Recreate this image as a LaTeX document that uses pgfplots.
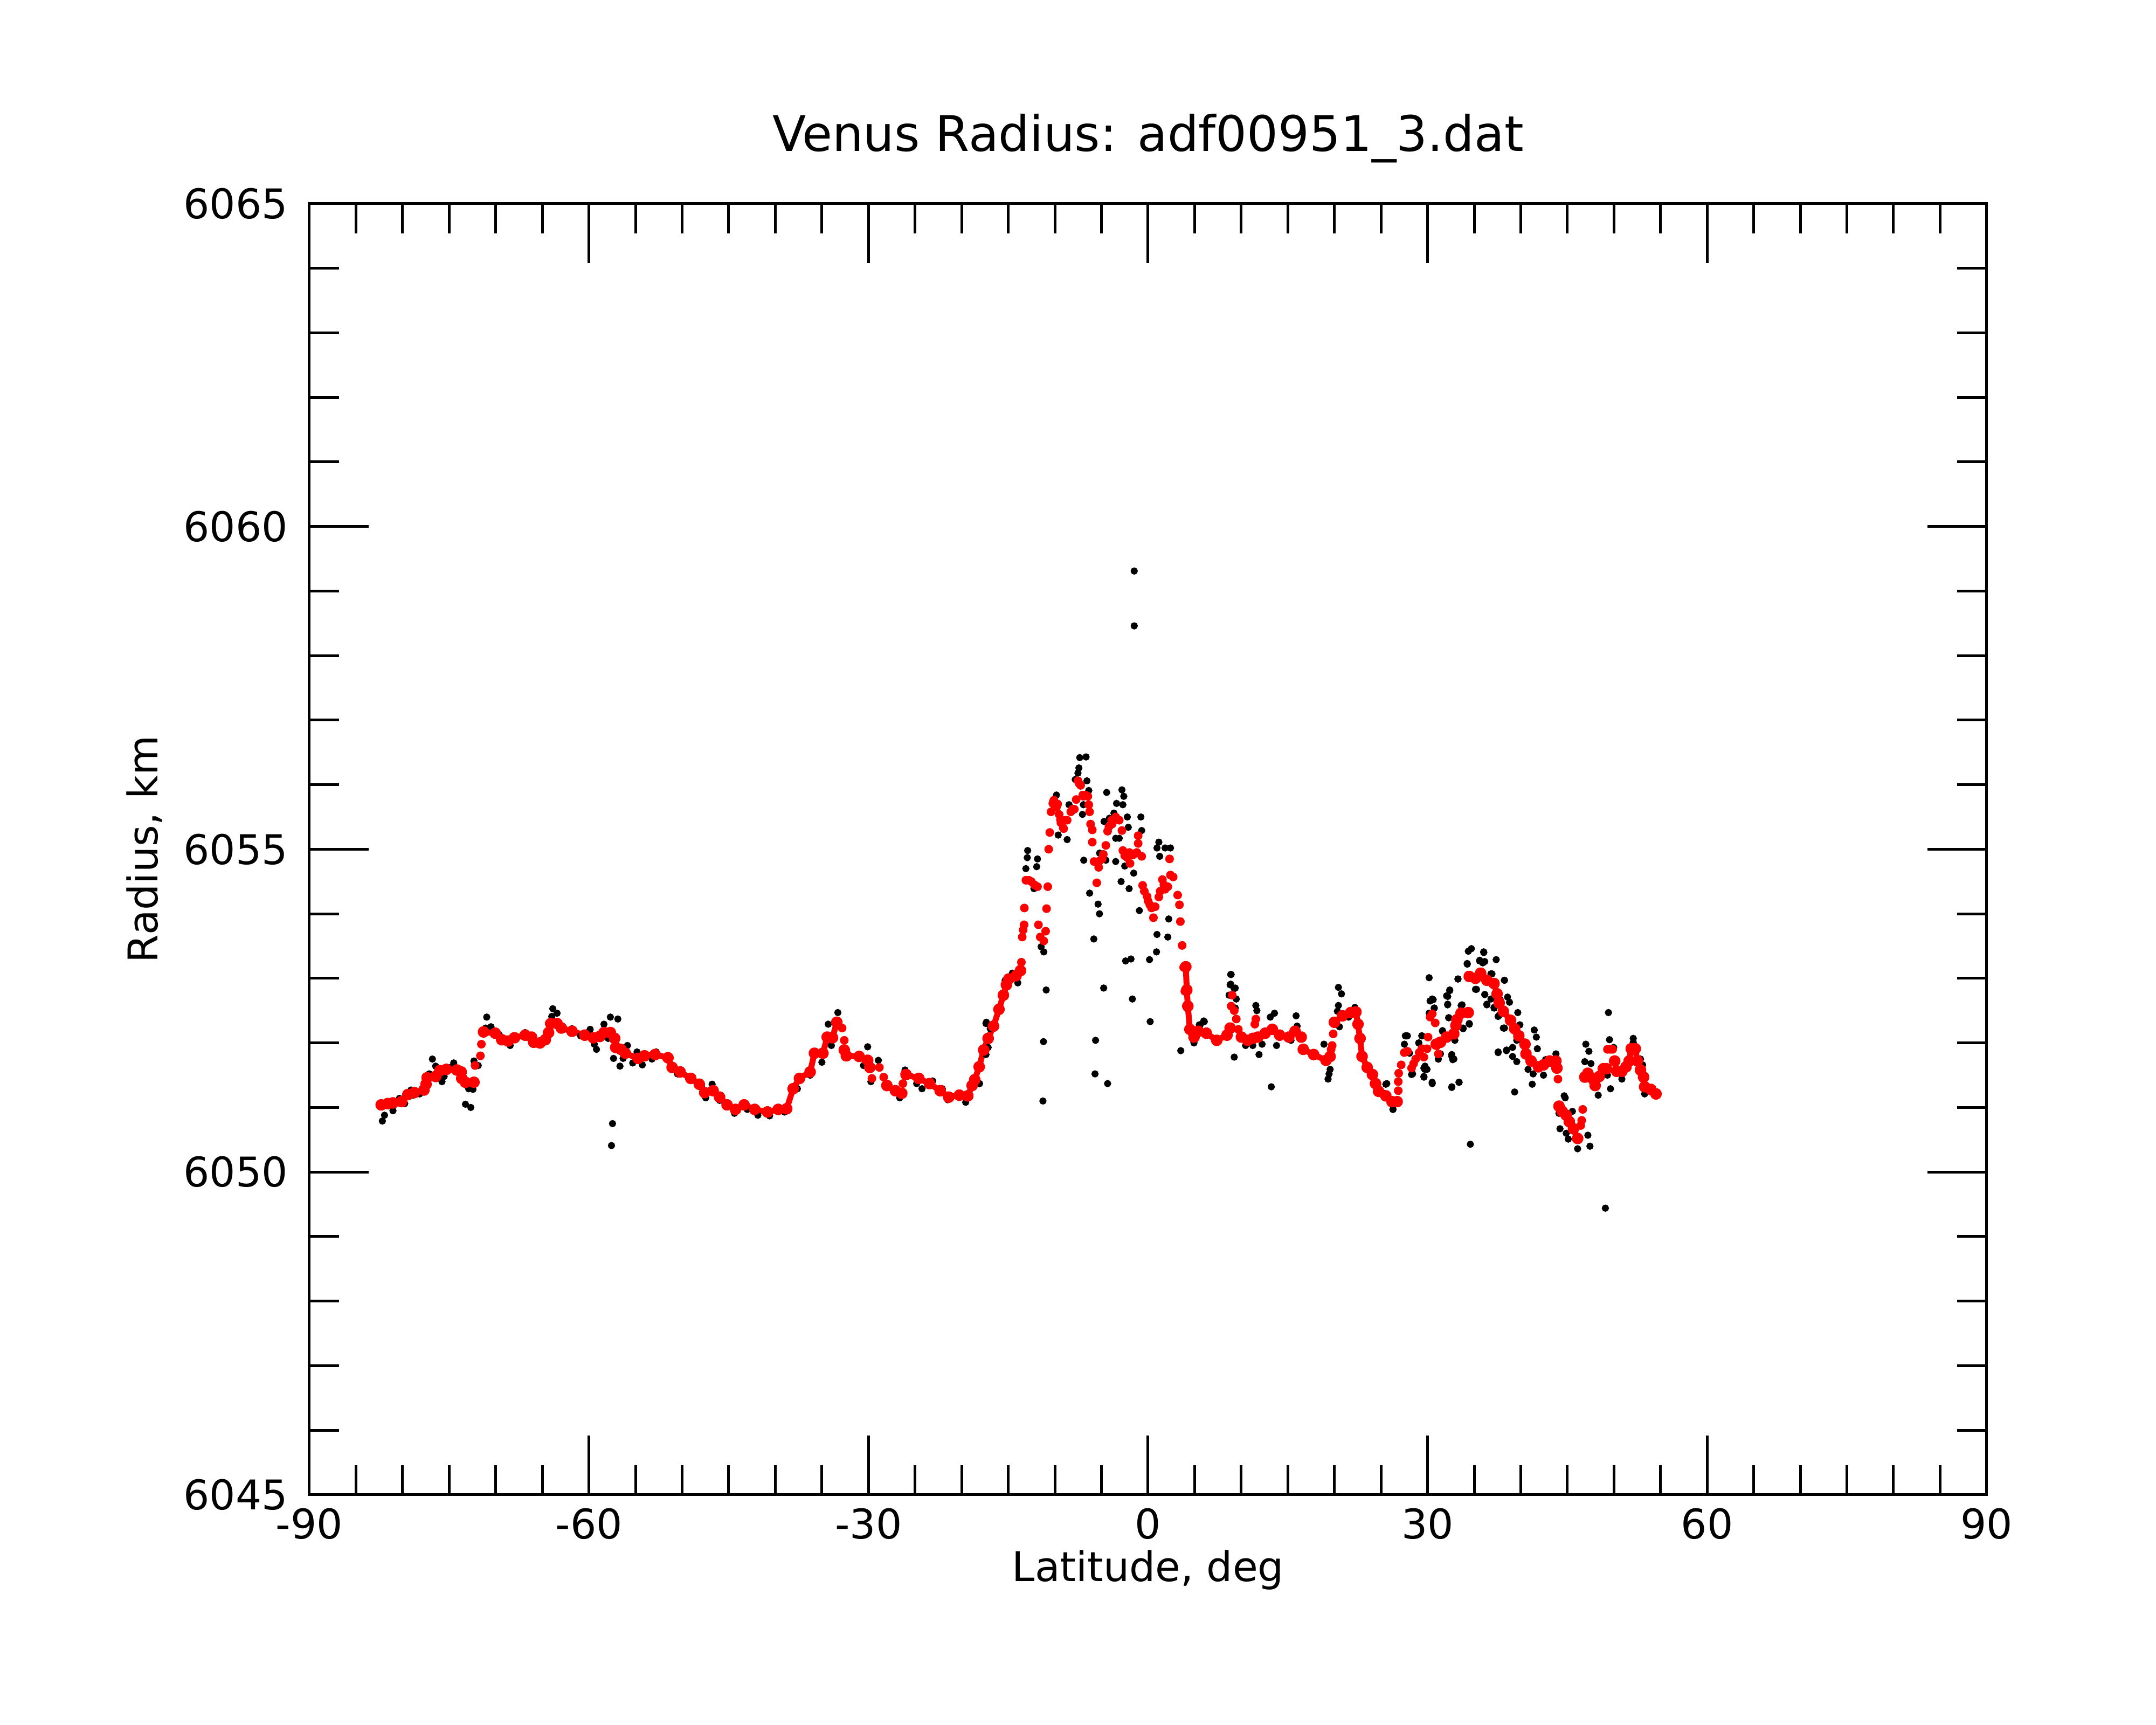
\documentclass[border=0pt]{standalone}
\usepackage{pgfplots}
\pgfplotsset{compat=1.18}
\usepackage{pgfplotstable}
\usepackage{fontspec}
\setmainfont{DejaVu Sans}

\pgfplotstableread{
x y
-82.17 6050.79
-81.94 6050.88
-81.03 6050.95
-80.34 6051.14
-79.77 6051.06
-79.09 6051.27
-78.86 6051.19
-78.17 6051.21
-76.8 6051.75
-76.45 6051.64
-77.14 6051.52
-75.77 6051.40
-75.54 6051.48
-74.85 6051.62
-74.51 6051.69
-72.91 6051.29
-72.45 6051.28
-73.25 6051.05
-72.68 6051.00
-72.34 6051.72
-71.88 6051.65
-70.97 6052.40
-70.51 6052.25
-71.08 6052.23
-69.6 6052.12
-68.45 6051.96
-67.99 6052.09
-66.85 6052.16
-65.36 6051.97
-63.88 6052.53
-63.42 6052.46
-63.99 6052.41
-62.73 6052.21
-61.82 6052.22
-60.9 6052.11
-59.87 6052.21
-59.42 6051.98
-59.19 6051.90
-58.39 6052.29
-57.7 6052.40
-56.9 6052.37
-57.93 6052.07
-57.36 6051.76
-56.67 6051.64
-57.47 6050.75
-57.58 6050.41
-55.87 6051.96
-56.33 6051.76
-55.3 6051.69
-54.84 6051.86
-54.27 6051.66
-53.93 6051.83
-53.24 6051.75
-52.78 6051.86
-51.52 6051.79
-50.5 6051.52
-50.63 6051.58
-47.93 6051.32
-47.47 6051.15
-46.78 6051.36
-45.98 6051.11
-44.38 6050.91
-43.01 6050.97
-41.87 6050.88
-40.61 6050.87
-39.01 6050.93
-37.63 6051.29
-36.26 6051.50
-35.0 6051.70
-34.32 6052.29
-33.98 6051.96
-33.29 6052.47
-30.09 6051.94
-30.54 6051.65
-28.94 6051.73
-29.74 6051.40
-26.65 6051.15
-26.08 6051.58
-24.83 6051.37
-24.26 6051.29
-23.11 6051.41
-22.08 6051.29
-21.51 6051.12
-19.57 6051.08
-18.08 6051.37
-17.39 6052.30
-16.93 6052.22
-17.16 6051.93
-17.39 6051.82
-7.33 6056.42
-6.65 6056.43
-7.42 6056.26
-7.52 6056.18
-7.81 6056.08
-6.56 6056.06
-6.36 6055.91
-6.94 6055.69
-7.04 6055.54
-8.48 6055.69
-8.68 6055.15
-9.64 6055.22
-9.83 6055.84
-10.22 6055.75
-4.44 6055.88
-2.8 6055.92
-2.6 6055.82
-2.7 6055.69
-3.38 6055.71
-4.15 6055.48
-4.72 6055.43
-2.22 6055.50
-2.12 6055.34
-0.77 6055.50
-0.68 6055.29
-3.66 6055.56
-3.47 6055.17
-3.09 6055.17
-4.53 6055.06
-5.2 6054.94
-4.53 6054.83
-3.47 6054.81
-2.5 6054.74
-1.54 6054.63
-6.9 6054.83
-6.27 6054.32
-5.36 6054.15
-5.21 6054.00
-5.82 6053.61
-2.89 6054.50
-2.03 6054.39
-0.93 6054.05
1.16 6055.11
0.96 6055.02
1.83 6055.02
2.41 6055.02
1.25 6054.89
2.22 6053.92
0.96 6053.68
2.12 6053.64
0.91 6053.41
0.16 6053.29
-1.83 6053.30
-2.41 6053.27
-1.68 6052.68
0.23 6052.33
3.51 6051.88
-4.76 6052.85
-5.63 6052.04
-5.69 6051.52
-4.34 6051.37
-10.93 6052.82
-11.22 6052.02
-11.28 6051.10
-12.92 6054.98
-12.96 6054.87
-11.86 6054.85
-13.11 6054.70
-11.95 6054.73
-12.24 6054.39
-11.47 6053.49
-11.19 6053.41
-14.56 6053.08
-13.98 6052.93
-15.33 6052.97
-17.35 6052.32
-16.87 6052.22
-17.16 6052.04
-18.12 6051.37
4.92 6052.02
5.98 6052.34
5.5 6052.28
8.87 6053.06
8.87 6052.91
9.25 6052.84
9.25 6051.78
8.68 6052.11
-1.48 6059.31
-1.48 6058.46
8.92 6053.06
8.81 6052.90
9.36 6052.85
8.70 6052.74
9.47 6052.68
9.36 6052.54
6.04 6052.33
5.6 6052.28
4.93 6052.00
11.57 6052.58
11.68 6052.50
10.47 6051.96
11.24 6051.96
11.91 6051.82
12.24 6051.98
13.12 6052.40
13.57 6052.46
13.79 6051.96
13.23 6051.32
15.89 6052.42
16.0 6052.26
15.34 6052.04
18.88 6051.98
19.54 6051.59
19.43 6051.52
19.32 6051.44
20.43 6052.86
20.76 6052.76
20.43 6052.58
20.32 6052.49
20.54 6052.25
21.53 6052.40
22.20 6052.55
25.52 6051.36
25.3 6051.22
26.29 6050.97
27.73 6052.11
27.51 6051.98
28.06 6051.84
28.28 6051.51
29.06 6052.00
29.39 6052.11
29.61 6051.47
30.5 6051.37
29.72 6051.64
29.94 6051.59
30.17 6053.01
30.5 6052.68
30.72 6052.54
30.17 6052.46
31.16 6051.82
31.16 6051.75
31.6 6052.18
32.16 6052.72
32.38 6052.82
32.16 6052.60
32.27 6052.39
32.6 6051.79
32.82 6051.75
32.6 6051.32
33.38 6051.39
33.6 6052.58
33.71 6052.44
33.26 6052.99
34.48 6052.29
33.82 6052.22
34.59 6050.43
34.7 6053.46
34.37 6053.42
36.03 6053.40
37.36 6053.29
34.26 6053.22
35.59 6053.28
35.92 6053.24
36.8 6053.07
38.25 6052.97
35.25 6052.83
36.14 6052.75
36.36 6052.60
36.8 6052.68
37.14 6052.54
37.69 6052.43
38.25 6052.23
37.58 6051.86
38.47 6051.89
38.58 6052.71
37.8 6052.67
36.02 6053.41
35.58 6053.27
36.13 6053.26
34.25 6053.23
33.26 6052.99
36.91 6053.07
38.24 6052.97
35.14 6052.83
36.13 6052.75
32.37 6052.81
32.04 6052.73
30.6 6052.67
30.27 6052.65
30.71 6052.54
32.15 6052.59
33.7 6052.59
36.36 6052.59
37.13 6052.55
38.79 6052.63
37.57 6052.41
32.26 6052.39
34.47 6052.30
33.81 6052.23
39.68 6052.47
39.9 6052.28
38.13 6052.23
41.45 6052.20
41.67 6052.09
39.57 6052.04
27.83 6052.11
29.38 6052.11
29.05 6052.00
31.6 6052.19
32.93 6052.04
31.38 6051.83
32.59 6051.82
32.7 6051.74
31.15 6051.75
29.6 6051.61
29.7 6051.59
28.39 6051.52
29.6 6051.48
30.49 6051.39
32.59 6051.31
33.37 6051.39
37.57 6051.85
38.46 6051.88
39.12 6051.93
39.12 6051.79
39.57 6051.71
41.78 6051.91
40.78 6051.59
41.33 6051.52
41.23 6051.36
39.34 6051.24
41.11 6051.75
42.66 6051.74
43.77 6051.83
42.44 6051.50
27.61 6052.11
25.62 6051.37
26.28 6050.97
44.66 6051.18
44.77 6051.15
45.54 6050.94
44.1 6050.91
44.21 6050.67
44.88 6050.60
45.1 6050.51
46.1 6050.36
47.2 6050.57
47.42 6050.40
46.98 6051.98
47.31 6051.87
46.87 6051.71
47.53 6051.68
48.42 6051.50
48.31 6051.19
49.3 6051.50
49.63 6051.29
49.41 6052.47
49.52 6052.05
49.97 6051.93
50.85 6051.44
52.07 6052.07
52.07 6052.01
52.85 6051.75
53.07 6051.66
53.29 6051.21
49.08 6049.44
}\blackpts

\pgfplotstableread{
x y
-82.29 6051.04
-81.6 6051.06
-81.03 6051.07
-80.11 6051.09
-79.43 6051.20
-78.74 6051.23
-77.71 6051.27
-77.48 6051.36
-77.37 6051.46
-76.45 6051.48
-76.0 6051.57
-75.3 6051.59
-74.17 6051.58
-73.71 6051.55
-73.65 6051.45
-73.25 6051.39
-72.34 6051.39
nan nan
-71.31 6052.17
-70.05 6052.15
-69.36 6052.05
-68.68 6052.03
-67.99 6052.08
-66.85 6052.12
-66.16 6052.09
-65.93 6052.01
-65.25 6052.00
-64.68 6052.05
-64.33 6052.16
-64.1 6052.30
-63.42 6052.30
-62.96 6052.23
-61.82 6052.18
-60.45 6052.12
-59.53 6052.08
-58.84 6052.10
-58.39 6052.16
-57.7 6052.16
-57.24 6052.07
-57.13 6051.93
-56.56 6051.90
-56.1 6051.84
-54.73 6051.76
-54.04 6051.80
-52.9 6051.82
-51.52 6051.77
-51.07 6051.62
-50.21 6051.55
-49.07 6051.45
-48.16 6051.36
-47.58 6051.23
-46.67 6051.26
-45.98 6051.16
-45.18 6051.04
-44.27 6050.97
-43.35 6051.04
-42.21 6050.97
-40.84 6050.93
-39.69 6050.97
-38.78 6050.98
-38.09 6051.29
-37.41 6051.45
-36.26 6051.55
-35.80 6051.84
-34.89 6051.84
-34.43 6052.09
-33.86 6052.08
-33.40 6052.32
nan nan
-32.60 6051.89
-32.37 6051.80
-31.0 6051.79
-30.09 6051.73
-29.86 6051.62
nan nan
-28.03 6051.34
-27.11 6051.26
-26.43 6051.22
nan nan
-25.97 6051.51
-24.60 6051.45
-23.45 6051.37
-22.31 6051.26
-21.39 6051.16
-20.25 6051.19
-19.34 6051.18
-18.88 6051.34
-18.6 6051.43
-18.12 6051.63
-17.64 6051.89
-17.16 6052.07
-16.58 6052.26
-16.0 6052.52
-15.52 6052.74
-15.2 6052.90
-14.94 6052.99
-14.17 6053.04
-13.69 6053.12
nan nan
4.05 6053.18
4.16 6052.82
4.27 6052.57
4.49 6052.21
4.93 6052.09
5.38 6052.18
6.26 6052.15
7.37 6052.04
8.47 6052.12
8.81 6052.23
nan nan
10.02 6052.09
10.69 6052.04
11.24 6052.07
nan nan
11.79 6052.09
12.57 6052.15
13.34 6052.21
14.12 6052.12
15.11 6052.09
15.78 6052.18
16.44 6052.09
nan nan
16.66 6051.90
17.77 6051.82
19.1 6051.73
19.54 6051.79
nan nan
20.0 6052.32
20.87 6052.42
21.75 6052.47
22.31 6052.48
22.53 6052.29
22.75 6052.07
22.97 6051.79
23.52 6051.62
24.08 6051.51
24.41 6051.37
24.74 6051.25
25.52 6051.18
26.18 6051.09
26.73 6051.09
nan nan
30.93 6051.98
31.38 6052.01
32.04 6052.09
32.81 6052.14
33.04 6052.27
33.15 6052.36
33.59 6052.46
34.36 6052.47
nan nan
34.47 6053.03
35.14 6053.00
35.69 6053.08
36.36 6052.97
37.13 6052.92
37.46 6052.76
37.68 6052.62
38.13 6052.49
38.9 6052.35
39.34 6052.22
39.79 6052.11
40.45 6051.98
40.56 6051.83
41.11 6051.72
41.9 6051.63
42.44 6051.66
43.11 6051.72
43.77 6051.72
43.88 6051.61
nan nan
44.1 6051.02
44.44 6050.94
44.88 6050.88
45.21 6050.78
45.65 6050.67
46.1 6050.52
nan nan
46.87 6051.47
47.2 6051.53
47.75 6051.44
47.98 6051.34
48.42 6051.48
48.86 6051.60
49.19 6051.60
nan nan
50.08 6051.72
50.3 6051.56
50.85 6051.56
51.3 6051.63
51.63 6051.72
51.85 6051.91
52.29 6051.91
52.51 6051.72
52.85 6051.58
53.18 6051.47
53.29 6051.32
53.95 6051.28
54.51 6051.21
}\redline

\pgfplotstableread{
x y
-72.22 6051.65
-71.65 6051.80
-71.54 6051.98
-32.83 6052.23
-32.60 6052.04
-29.63 6051.45
-28.83 6051.62
-28.37 6051.47
-26.31 6051.37
-13.59 6053.25
-13.5 6053.64
-13.4 6053.75
-13.3 6053.83
-13.27 6054.09
-13.11 6054.52
-12.8 6054.52
-12.53 6054.50
-12.2 6054.45
-11.86 6054.42
-11.76 6053.83
-11.57 6053.64
-11.19 6053.58
-10.99 6053.73
-10.89 6054.08
-10.76 6054.42
-10.66 6055.00
-10.55 6055.26
-10.41 6055.58
-10.22 6055.71
-10.1 6055.76
-9.9 6055.66
-9.7 6055.70
-9.83 6055.65
-9.54 6055.54
-9.4 6055.46
-9.35 6055.41
-9.1 6055.33
-9.06 6055.32
-8.9 6055.45
-8.68 6055.45
-8.29 6055.58
-8.1 6055.62
-7.91 6055.62
-7.71 6055.77
-7.52 6056.06
-7.4 6056.02
-7.23 6055.99
-7.0 6055.84
-6.94 6055.82
-6.7 6055.84
-6.46 6055.82
-6.36 6055.69
-6.27 6055.58
-6.17 6055.39
-5.98 6055.30
-5.98 6055.11
-5.79 6054.81
-5.5 6054.48
-5.3 6054.72
-5.2 6054.82
-4.92 6054.85
-4.8 6054.92
-4.53 6055.06
-4.34 6055.28
-4.2 6055.35
-3.9 6055.45
-3.86 6055.39
-3.7 6055.45
-3.47 6055.50
-3.09 6055.45
-2.8 6055.29
-2.7 6054.98
-2.5 6054.90
-2.22 6054.87
-2.0 6054.95
-1.93 6054.78
-1.64 6054.91
-1.45 6054.93
-1.2 6054.95
-1.06 6055.09
-1.06 6055.21
-0.68 6054.89
-0.58 6054.44
-0.4 6054.35
-0.1 6054.27
0.0 6054.20
0.19 6054.14
0.38 6054.09
0.58 6053.94
0.77 6054.11
1.16 6054.26
1.3 6054.35
1.54 6054.53
1.7 6054.45
1.83 6054.38
2.12 6054.42
2.31 6054.85
2.4 6054.60
2.7 6054.57
3.18 6054.29
3.37 6054.14
3.47 6053.88
3.66 6053.51
3.82 6053.17
3.95 6052.80
8.92 6052.57
9.03 6052.74
9.25 6052.50
9.47 6052.37
9.69 6052.21
11.46 6052.29
11.57 6052.37
19.65 6051.90
19.76 6051.96
19.87 6052.14
26.85 6051.26
26.85 6051.40
26.9 6051.53
27.17 6051.66
27.5 6051.85
27.84 6051.87
28.28 6051.61
28.5 6051.68
28.72 6051.75
29.1 6051.85
29.38 6051.91
29.6 6051.78
29.94 6051.91
30.05 6052.09
30.27 6052.40
30.5 6052.45
30.82 6052.31
31.15 6051.83
43.99 6051.44
46.43 6050.72
46.54 6050.80
46.65 6050.97
49.3 6051.90
49.6 6051.90
49.86 6051.90
}\reddots

\begin{document}
\begin{tikzpicture}
\useasboundingbox (-57.4pt,-42.7pt) rectangle (342.6pt,277.3pt);
\begin{axis}[
  at={(0pt,0pt)}, anchor=south west,
  scale only axis, width=311.2pt, height=239.5pt,
  xmin=-90, xmax=90, ymin=6045, ymax=6065,
  xtick={-90,-60,-30,0,30,60,90},
  xticklabels={-90,-60,-30,0,30,60,90},
  ytick={6045,6050,6055,6060,6065},
  yticklabels={6045,6050,6055,6060,6065},
  minor x tick num=5, minor y tick num=4,
  tick align=inside,
  major tick length=11pt, minor tick length=5.5pt,
  every tick/.append style={black, line width=0.5pt},
  axis line style={black, line width=0.5pt},
  xticklabel style={font=\fontsize{7.6}{9}\selectfont, anchor=base, inner sep=0pt, yshift=-8.2pt},
  yticklabel style={font=\fontsize{7.6}{9}\selectfont, anchor=east, inner sep=0pt, xshift=-3.8pt},
  xlabel={Latitude, deg},
  ylabel={Radius, km},
  xlabel style={font=\fontsize{7.6}{9}\selectfont, at={(axis description cs:0.5,-0.0672)}, anchor=base, inner sep=0pt},
  ylabel style={font=\fontsize{7.6}{9}\selectfont, at={(axis description cs:-0.0906,0.5)}, anchor=base, inner sep=0pt},
  title={Venus Radius: adf00951\_3.dat},
  title style={font=\fontsize{9.1}{11}\selectfont, at={(axis description cs:0.5,1.0157)}, anchor=base, inner sep=0pt},
  unbounded coords=jump,
]
\addplot[black, only marks, mark=*, mark size=0.46pt, mark options={draw=none, fill=black}] table[x=x,y=y] {\blackpts};
\addplot[red, line width=1.1pt, line join=round, line cap=round, mark=*, mark size=0.55pt, mark options={draw=none, fill=red}] table[x=x,y=y] {\redline};
\addplot[red, only marks, mark=*, mark size=0.6pt, mark options={draw=none, fill=red}] table[x=x,y=y] {\reddots};
\end{axis}
\end{tikzpicture}
\end{document}
